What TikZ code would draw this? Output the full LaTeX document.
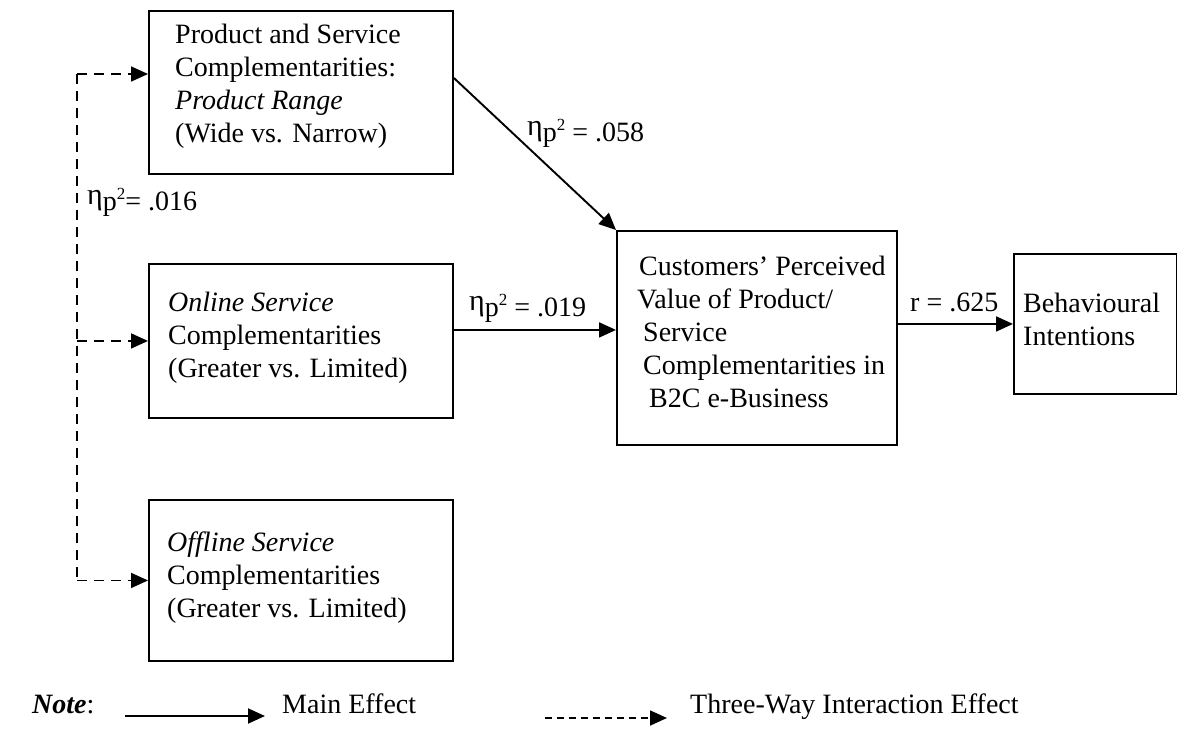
\documentclass[tikz,border=0pt]{standalone}
\usepackage{fontspec}
\setmainfont{Liberation Serif}
\usetikzlibrary{arrows.meta}

% eta with partial-eta-squared notation
\newcommand{\etap}{\raisebox{6pt}{\fontsize{30pt}{30pt}\selectfont η}p\raisebox{11pt}{\fontsize{17pt}{17pt}\selectfont 2}}
\newcommand{\firstline}{\rule{0pt}{20pt}}

\begin{document}
\begin{tikzpicture}[x=1pt,y=-1pt,
  box/.style={draw,line width=1.9pt,inner sep=0pt,anchor=north west},
  txt/.style={inner sep=0pt,anchor=north west,align=left,
    font=\fontsize{28pt}{33pt}\selectfont},
  lbl/.style={inner sep=0pt,anchor=base west,
    font=\fontsize{28pt}{33pt}\selectfont},
  tip/.style={-{Triangle[length=17pt,width=15pt]}},
  mainarrow/.style={tip,line width=1.9pt},
  dasharrow/.style={tip,line width=1.7pt,dash pattern=on 10pt off 7pt},
  legdash/.style={tip,line width=1.7pt,dash pattern=on 7pt off 5pt}]

\useasboundingbox[fill=white] (0,0) rectangle (1177,749);

% factor boxes
\node[box,minimum width=304pt,minimum height=163pt] (pr) at (148,10) {};
\node[txt] (prt) at (175,23) {\firstline Product and Service\\Complementarities:\\\textit{Product Range}\\(Wide vs. Narrow)};

\node[box,minimum width=304pt,minimum height=154pt] (on) at (148,263) {};
\node[txt] (ont) at (168,291) {\firstline\textit{Online Service}\\Complementarities\\(Greater vs. Limited)};

\node[box,minimum width=304pt,minimum height=161pt] (off) at (148,499) {};
\node[txt] (offt) at (167,531) {\firstline\textit{Offline Service}\\Complementarities\\(Greater vs. Limited)};

% perceived value and outcome
\node[box,minimum width=280pt,minimum height=214pt] (cv) at (616,230) {};
\node[txt] (cvt) at (637,255) {\firstline\hspace*{2pt}Customers’ Perceived\\Value of Product/\\\hspace*{6pt}Service\\\hspace*{6pt}Complementarities in\\\hspace*{12pt}B2C e-Business};

\node[box,minimum width=163pt,minimum height=140pt] (bi) at (1013,253) {};
\node[txt] (bit) at (1023,292) {\firstline Behavioural\\Intentions};

% main effects
\draw[mainarrow] ([yshift=-68pt]pr.north east) -- (cv.north west);
\draw[mainarrow] ([yshift=11pt]on.east) -- ([yshift=11pt]on.east -| cv.west);
\draw[mainarrow] (cv.east |- bi.west) -- (bi.west);

\node[lbl] (l058) at (527,142) {\etap{} = .058};
\node[lbl] (l019) at (469,316) {\etap{} = .019};
\node[lbl] (l625) at (910,311) {r = .625};

% three-way interaction
\coordinate (dtop) at (77,74);
\coordinate (dmid) at (on.west -| dtop);
\coordinate (dbot) at (off.west -| dtop);
\draw[line width=1.7pt,dash pattern=on 10pt off 7pt] (dtop) -- (dbot);
\draw[dasharrow] (dtop) -- (dtop -| pr.west);
\draw[dasharrow] (dmid) -- (on.west);
\draw[dasharrow] (dbot) -- (off.west);
\node[lbl] (l016) at (87,210) {\etap{}= .016};

% legend
\node[lbl] (note) at (32,713) {\textbf{\textit{Note}}:};
\coordinate (m1) at (125,716);
\coordinate (m2) at (265,716);
\draw[mainarrow] (m1) -- (m2);
\node[lbl] (mainfx) at (282,713) {Main Effect};
\coordinate (d1) at (545,718);
\coordinate (d2) at (667,718);
\draw[legdash] (d1) -- (d2);
\node[lbl] (threefx) at (690,713) {Three-Way Interaction Effect};
\end{tikzpicture}
\end{document}
